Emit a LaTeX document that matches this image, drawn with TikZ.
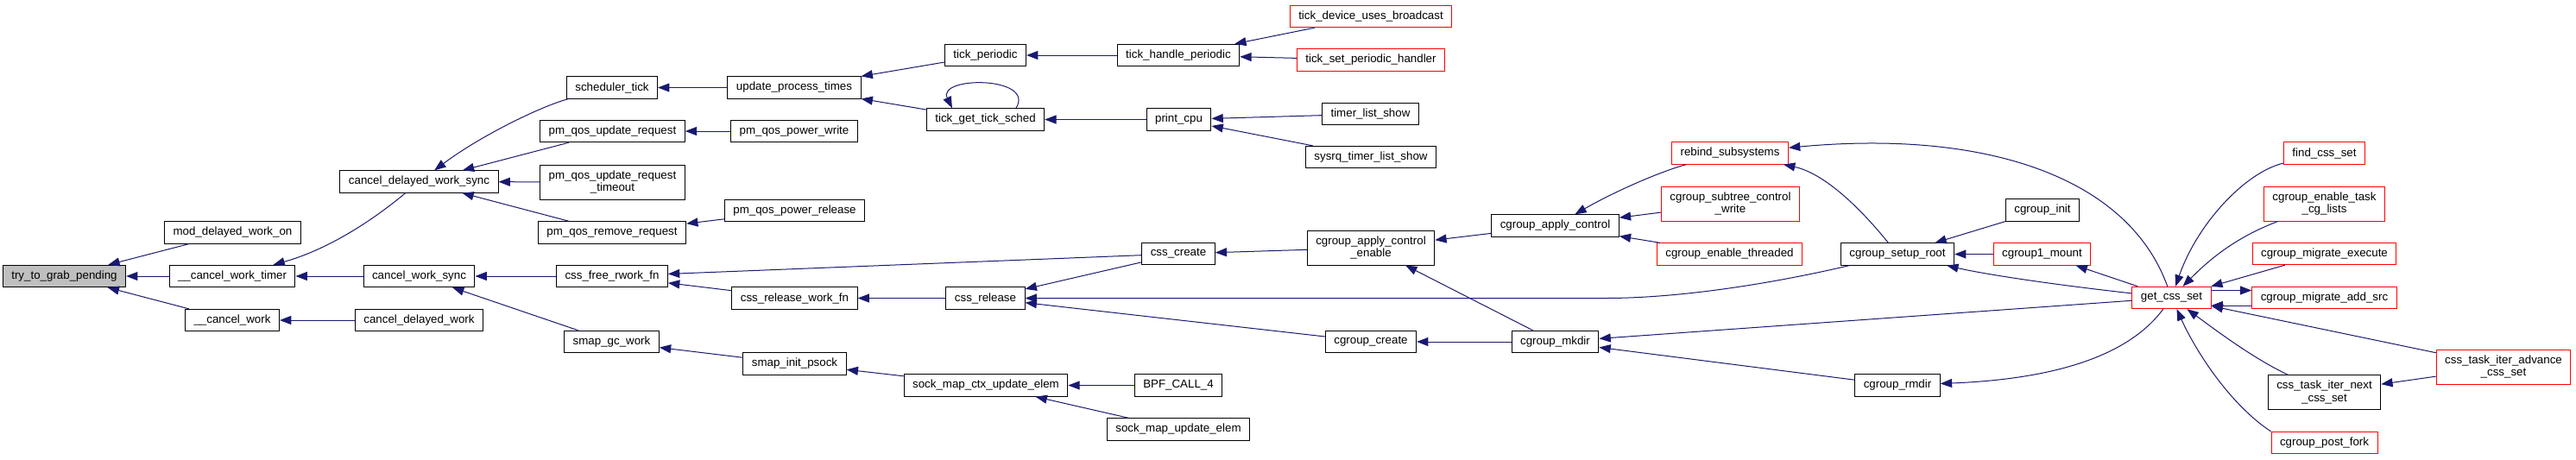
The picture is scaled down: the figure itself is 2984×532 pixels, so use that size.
\documentclass[tikz,border=0pt]{standalone}
\usepackage{fontspec}
\setmainfont{Liberation Sans}
\usetikzlibrary{arrows.meta}
\definecolor{edgeblue}{HTML}{191970}
\definecolor{rootgray}{HTML}{BFBFBF}
\definecolor{extred}{HTML}{FF0000}

\begin{document}
\begin{tikzpicture}[
  x=0.75pt, y=-0.75pt,
  every node/.style={font=\fontsize{10}{11}\selectfont},
  fn/.style={draw=black, fill=white, line width=0.75pt, rectangle, inner xsep=7.5pt, inner ysep=2pt, minimum height=19pt, align=center},
  root/.style={fn, fill=rootgray},
  ext/.style={fn, draw=extred},
  twoline/.style={minimum height=30pt},
  call/.style={color=edgeblue, line width=0.75pt, -{Triangle[length=10pt,width=7.5pt]}}
]
\useasboundingbox (0,0) rectangle (2984,532);

% functions, column by column
\node[root] (tgp) at (74.5,320) {try\_to\_grab\_pending};
\node[fn] (mdwo) at (269.5,269.5) {mod\_delayed\_work\_on};
\node[fn] (cwt) at (269,320) {\_\_cancel\_work\_timer};
\node[fn] (cw) at (269,371) {\_\_cancel\_work};
\node[fn] (cdws) at (485.5,210.5) {cancel\_delayed\_work\_sync};
\node[fn] (cws) at (485.5,320) {cancel\_work\_sync};
\node[fn] (cdw) at (485.5,371) {cancel\_delayed\_work};
\node[fn] (stick) at (709,101.5) {scheduler\_tick};
\node[fn] (pqur) at (709.5,152) {pm\_qos\_update\_request};
\node[fn, twoline] (pqurt) at (709.5,211) {pm\_qos\_update\_request\\\_timeout};
\node[fn] (pqrr) at (709,269.5) {pm\_qos\_remove\_request};
\node[fn] (cfrf) at (709,320) {css\_free\_rwork\_fn};
\node[fn] (sgw) at (708.5,396) {smap\_gc\_work};
\node[fn] (upt) at (920,101.5) {update\_process\_times};
\node[fn] (pqpw) at (920,152) {pm\_qos\_power\_write};
\node[fn] (pqpr) at (920.5,244) {pm\_qos\_power\_release};
\node[fn] (crwf) at (920.5,345.5) {css\_release\_work\_fn};
\node[fn] (sips) at (920.5,421.5) {smap\_init\_psock};
\node[fn] (tper) at (1141.5,64) {tick\_periodic};
\node[fn] (tgts) at (1141.5,138.5) {tick\_get\_tick\_sched};
\node[fn] (crel) at (1141.5,345.5) {css\_release};
\node[fn] (smcue) at (1142,446.5) {sock\_map\_ctx\_update\_elem};
\node[fn] (thp) at (1365,64) {tick\_handle\_periodic};
\node[fn] (pcpu) at (1365.5,138.5) {print\_cpu};
\node[fn] (ccss) at (1365,294) {css\_create};
\node[fn] (bpf) at (1365,446.5) {BPF\_CALL\_4};
\node[fn] (smue) at (1365,497.5) {sock\_map\_update\_elem};
\node[ext] (tdub) at (1588,19) {tick\_device\_uses\_broadcast};
\node[ext] (tsph) at (1588,69.5) {tick\_set\_periodic\_handler};
\node[fn] (tls) at (1587.5,132) {timer\_list\_show};
\node[fn] (stls) at (1588,182) {sysrq\_timer\_list\_show};
\node[fn, twoline] (cace) at (1588,287) {cgroup\_apply\_control\\\_enable};
\node[fn] (ccr) at (1588,396) {cgroup\_create};
\node[fn] (cac) at (1801.5,261.5) {cgroup\_apply\_control};
\node[fn] (cmk) at (1801.5,396) {cgroup\_mkdir};
\node[ext] (rbs) at (2004,177.5) {rebind\_subsystems};
\node[ext, twoline] (cscw) at (2004.5,236) {cgroup\_subtree\_control\\\_write};
\node[ext] (cet) at (2003.5,294.5) {cgroup\_enable\_threaded};
\node[fn] (csr) at (2198,294.5) {cgroup\_setup\_root};
\node[fn] (crm) at (2198,446.5) {cgroup\_rmdir};
\node[fn] (cinit) at (2366,243.5) {cgroup\_init};
\node[ext] (c1m) at (2365.5,294.5) {cgroup1\_mount};
\node[ext] (gcs) at (2515.5,345) {get\_css\_set};
\node[ext] (fcs) at (2692.5,177.5) {find\_css\_set};
\node[ext, twoline] (cetcl) at (2692.5,236) {cgroup\_enable\_task\\\_cg\_lists};
\node[ext] (cme) at (2692.5,294) {cgroup\_migrate\_execute};
\node[ext] (cmas) at (2692.5,345) {cgroup\_migrate\_add\_src};
\node[fn, twoline] (ctinc) at (2692.5,454.5) {css\_task\_iter\_next\\\_css\_set};
\node[ext] (cpf) at (2692.5,513) {cgroup\_post\_fork};
\node[ext, twoline] (ctiac) at (2900,425) {css\_task\_iter\_advance\\\_css\_set};

% calls, arrow on the callee
\draw[call] (mdwo) -- (tgp);
\draw[call] (cwt) -- (tgp);
\draw[call] (cw) -- (tgp);
\draw[call] (cdws) .. controls (420,265) and (370,292) .. (cwt);
\draw[call] (cws) -- (cwt);
\draw[call] (cdw) -- (cw);
\draw[call] (stick) .. controls (630,122) and (560,155) .. (cdws);
\draw[call] (pqur) -- (cdws);
\draw[call] (pqurt) -- (cdws);
\draw[call] (pqrr) -- (cdws);
\draw[call] (cfrf) -- (cws);
\draw[call] (sgw) -- (cws);
\draw[call] (upt) -- (stick);
\draw[call] (pqpw) -- (pqur);
\draw[call] (pqpr) -- (pqrr);
\draw[call] (ccss) -- (cfrf);
\draw[call] (crwf) -- (cfrf);
\draw[call] (sips) -- (sgw);
\draw[call] (tper) -- (upt);
\draw[call] (tgts) -- (upt);
\draw[call] ([xshift=26.6pt]tgts.north) .. controls (1200,88) and (1085,88) .. ([xshift=-28.9pt]tgts.north);
\draw[call] (crel) -- (crwf);
\draw[call] (smcue) -- (sips);
\draw[call] (thp) -- (tper);
\draw[call] (pcpu) -- (tgts);
\draw[call] (ccss) -- (crel);
\draw[call] (csr) .. controls (2060,327) and (1950,345.5) .. (1860,345.5) -- (crel);
\draw[call] (ccr) -- (crel);
\draw[call] (bpf) -- (smcue);
\draw[call] (smue) -- (smcue);
\draw[call] (tdub) -- (thp);
\draw[call] (tsph) -- (thp);
\draw[call] (tls) -- (pcpu);
\draw[call] (stls) -- (pcpu);
\draw[call] (cace) -- (ccss);
\draw[call] (cac) -- (cace);
\draw[call] (cmk) -- (cace);
\draw[call] (cmk) -- (ccr);
\draw[call] (rbs) .. controls (1925,198) and (1870,222) .. (cac);
\draw[call] (cscw) -- (cac);
\draw[call] (cet) -- (cac);
\draw[call] (csr) .. controls (2150,235) and (2110,200) .. (rbs);
\draw[call] (gcs) .. controls (2465,205) and (2300,150) .. (rbs);
\draw[call] (gcs) -- (cmk);
\draw[call] (crm) -- (cmk);
\draw[call] (cinit) -- (csr);
\draw[call] (c1m) -- (csr);
\draw[call] (gcs) .. controls (2380,330) and (2300,318) .. (csr);
\draw[call] (gcs) -- (c1m);
\draw[call] (gcs) .. controls (2460,420) and (2360,440) .. (crm);
\draw[call] (fcs) .. controls (2600,200) and (2545,260) .. (gcs);
\draw[call] (cetcl) .. controls (2590,275) and (2560,300) .. (gcs);
\draw[call] (cme) -- (gcs);
\draw[call] ([yshift=6.4pt]gcs.east) -- ([yshift=6.4pt]cmas.west);
\draw[call] ([yshift=-6.75pt]cmas.west) -- ([yshift=-6.75pt]gcs.east);
\draw[call] (ctiac) -- (gcs);
\draw[call] (ctinc) .. controls (2610,415) and (2570,385) .. (gcs);
\draw[call] (cpf.north west) .. controls (2585,470) and (2545,410) .. (gcs);
\draw[call] (ctiac) -- (ctinc);
\end{tikzpicture}
\end{document}
